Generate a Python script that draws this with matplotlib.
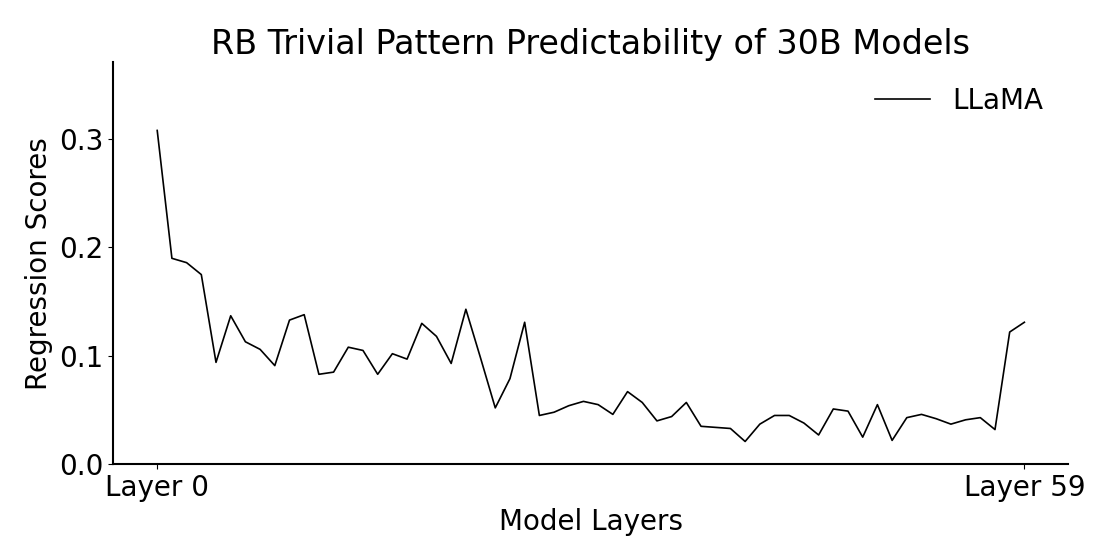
import numpy as np
import matplotlib.pyplot as plt

# regression scores per layer
layers = np.arange(60)
llama_scores = [0.308, 0.190, 0.186, 0.175, 0.094, 0.137, 0.113, 0.106, 0.091, 0.133,
                0.138, 0.083, 0.085, 0.108, 0.105, 0.083, 0.102, 0.097, 0.130, 0.118,
                0.093, 0.143, 0.098, 0.052, 0.079, 0.131, 0.045, 0.048, 0.054, 0.058,
                0.055, 0.046, 0.067, 0.057, 0.040, 0.044, 0.057, 0.035, 0.034, 0.033,
                0.021, 0.037, 0.045, 0.045, 0.038, 0.027, 0.051, 0.049, 0.025, 0.055,
                0.022, 0.043, 0.046, 0.042, 0.037, 0.041, 0.043, 0.032, 0.122, 0.131]
tick_pos = [0, 59]
tick_labels = ['Layer 0', 'Layer 59']

fig = plt.figure(figsize=(11.2, 5.6), dpi=100)
ax = fig.add_axes([0.101, 0.171, 0.853, 0.718])

ax.plot(layers, llama_scores, color='black', linewidth=1.2, label='LLaMA')

ax.set_xlim(-3, 62)
ax.set_ylim(0, 0.371)
ax.set_xticks(tick_pos)
ax.set_xticklabels(tick_labels)
ax.set_yticks([0.0, 0.1, 0.2, 0.3])
ax.tick_params(labelsize=20)

ax.spines['top'].set_visible(False)
ax.spines['right'].set_visible(False)
ax.spines['left'].set_linewidth(1.5)
ax.spines['bottom'].set_linewidth(1.5)

ax.set_title('RB Trivial Pattern Predictability of 30B Models', fontsize=24)
ax.set_xlabel('Model Layers', fontsize=20)
ax.set_ylabel('Regression Scores', fontsize=20)
ax.legend(loc='upper right', frameon=False, fontsize=20)

fig.savefig('out.png', dpi=100)
